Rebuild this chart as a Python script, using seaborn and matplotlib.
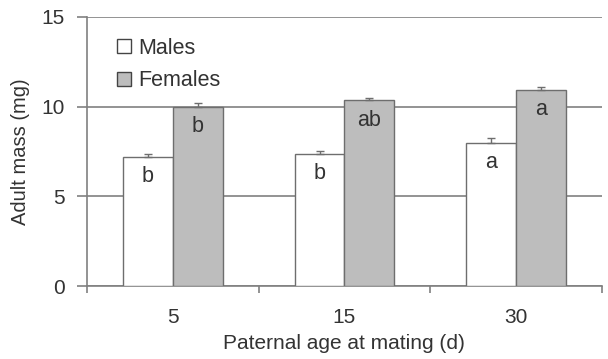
import seaborn as sns
import matplotlib.pyplot as plt
import pandas as pd
from matplotlib.patches import Patch

# values
ages = ["5", "15", "30"]
males = [7.2, 7.35, 8.0]
females = [10.0, 10.35, 10.95]
males_err = [0.15, 0.2, 0.25]
females_err = [0.2, 0.15, 0.12]
males_letters = ["b", "b", "a"]
females_letters = ["b", "ab", "a"]

df = pd.DataFrame({
    "Age": ages * 2,
    "Mass": males + females,
    "Sex": ["Males"] * 3 + ["Females"] * 3,
})

sns.set_theme(style="white")
plt.rcParams['font.family'] = ['Liberation Sans', 'DejaVu Sans']

fig = plt.figure(figsize=(6.08, 3.59), dpi=100)
ax = fig.add_axes([0.143, 0.203, 0.847, 0.750])

grey = "#6e6e6e"
txt = "#333333"
ax = sns.barplot(data=df, x="Age", y="Mass", hue="Sex", order=ages,
                 hue_order=["Males", "Females"],
                 palette={"Males": "white", "Females": "#bdbdbd"},
                 width=0.58, errorbar=None, edgecolor=grey, linewidth=1.0,
                 legend=False, ax=ax, zorder=3)

# error bars (upward only) and letters
errs = males_err + females_err
letters = males_letters + females_letters
vals = males + females
for bar, e, lab, v in zip(ax.patches, errs, letters, vals):
    cx = bar.get_x() + bar.get_width() / 2
    ax.errorbar(cx, v, yerr=[[0], [e]], fmt="none", ecolor=grey,
                elinewidth=1.0, capsize=3, capthick=1.0, zorder=4)
    ax.text(cx, v - 1.1, lab, ha="center", va="center", fontsize=15.5,
            color=txt, zorder=5)

ax.set_ylim(0, 15)
ax.set_xlim(-0.5, 2.5)
ax.set_yticks([0, 5, 10, 15])
ax.yaxis.grid(True, color="#808080", linewidth=1.2, zorder=0)
ax.set_axisbelow(True)

for s in ["top", "right"]:
    ax.spines[s].set_visible(False)
for s in ["left", "bottom"]:
    ax.spines[s].set_color("#808080")
    ax.spines[s].set_linewidth(1.2)

ax.set_xticks([-0.5, 0.5, 1.5, 2.5], minor=True)
ax.tick_params(axis="x", which="major", length=0, pad=16, labelsize=15,
               labelcolor=txt)
ax.tick_params(axis="x", which="minor", length=5, color="#808080", width=1.2,
               direction="out", bottom=True)
ax.tick_params(axis="y", length=7, color="#808080", width=1.2, direction="out",
               left=True, labelsize=15, labelcolor=txt, pad=9)

ax.set_xlabel("Paternal age at mating (d)", fontsize=15, color=txt,
              labelpad=5)
ax.set_ylabel("Adult mass (mg)", fontsize=14.5, color=txt, labelpad=8)

handles = [Patch(facecolor="white", edgecolor="#444444", label="Males"),
           Patch(facecolor="#bdbdbd", edgecolor="#444444", label="Females")]
ax.legend(handles=handles, loc="upper left", bbox_to_anchor=(0.02, 0.995),
          frameon=False, fontsize=15.5, handlelength=0.65, handleheight=0.65,
          handletextpad=0.35, labelspacing=0.55, labelcolor=txt)

fig.savefig("out.png", dpi=100)
